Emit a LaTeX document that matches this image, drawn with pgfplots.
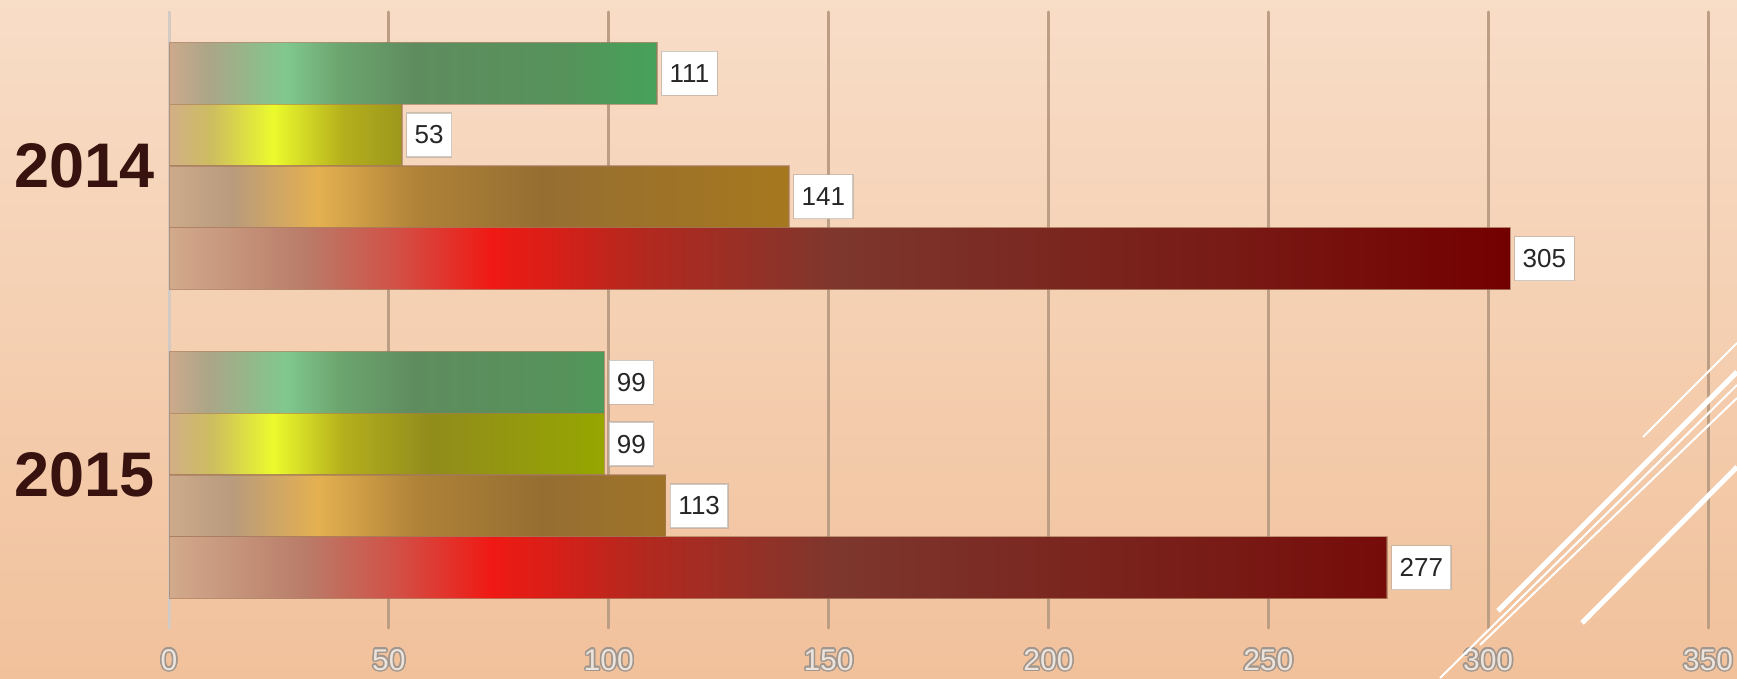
\documentclass[border=0pt]{standalone}
\usepackage{pgfplots}
\pgfplotsset{compat=1.18}
\usepackage{fontspec}
\setmainfont{Liberation Sans}
\usepackage{contour}
\contourlength{1.5pt}

\definecolor{bgtop}{RGB}{248,221,199}
\definecolor{bgbot}{RGB}{241,193,155}
\definecolor{gridc}{RGB}{188,158,132}
\definecolor{zeroc}{RGB}{212,202,196}
\definecolor{yearc}{RGB}{55,18,14}
\definecolor{tickc}{RGB}{236,228,220}
\definecolor{tickline}{RGB}{160,150,142}
\definecolor{boxc}{RGB}{178,168,158}
\definecolor{edgec}{RGB}{165,120,90}

% green
\definecolor{gA}{RGB}{205,170,140}
\definecolor{gB}{RGB}{172,165,135}
\definecolor{gC}{RGB}{128,200,142}
\definecolor{gD}{RGB}{108,165,110}
\definecolor{gE}{RGB}{95,140,95}
\definecolor{gF}{RGB}{86,146,90}
\definecolor{gG}{RGB}{70,162,90}
% yellow
\definecolor{yA}{RGB}{210,175,135}
\definecolor{yB}{RGB}{205,190,95}
\definecolor{yC}{RGB}{235,250,45}
\definecolor{yD}{RGB}{180,175,28}
\definecolor{yE}{RGB}{145,140,28}
\definecolor{yF}{RGB}{150,166,0}
% orange
\definecolor{oA}{RGB}{205,170,140}
\definecolor{oB}{RGB}{185,155,125}
\definecolor{oC}{RGB}{228,176,80}
\definecolor{oD}{RGB}{175,130,55}
\definecolor{oE}{RGB}{150,110,50}
\definecolor{oF}{RGB}{166,120,30}
% red
\definecolor{rA}{RGB}{210,170,140}
\definecolor{rB}{RGB}{185,125,105}
\definecolor{rC}{RGB}{210,80,70}
\definecolor{rD}{RGB}{240,25,20}
\definecolor{rE}{RGB}{180,40,30}
\definecolor{rF}{RGB}{125,55,45}
\definecolor{rG}{RGB}{120,25,20}
\definecolor{rH}{RGB}{115,0,0}

% bar runs from 25bp to 75bp of each shading
\pgfdeclarehorizontalshading{greenbar}{100bp}{color(0bp)=(gA); color(25bp)=(gA);
  color(29bp)=(gB); color(37bp)=(gC); color(42.5bp)=(gD); color(50bp)=(gE);
  color(65bp)=(gF); color(75bp)=(gG); color(100bp)=(gG)}
\pgfdeclarehorizontalshading{yellowbar}{100bp}{color(0bp)=(yA); color(25bp)=(yA);
  color(30bp)=(yB); color(37bp)=(yC); color(45bp)=(yD); color(55bp)=(yE);
  color(75bp)=(yF); color(100bp)=(yF)}
\pgfdeclarehorizontalshading{orangebar}{100bp}{color(0bp)=(oA); color(25bp)=(oA);
  color(30bp)=(oB); color(37bp)=(oC); color(45bp)=(oD); color(55bp)=(oE);
  color(75bp)=(oF); color(100bp)=(oF)}
\pgfdeclarehorizontalshading{redbar}{100bp}{color(0bp)=(rA); color(25bp)=(rA);
  color(30bp)=(rB); color(33.5bp)=(rC); color(37bp)=(rD); color(42.5bp)=(rE);
  color(50bp)=(rF); color(65bp)=(rG); color(75bp)=(rH); color(100bp)=(rH)}

\begin{document}
\begin{tikzpicture}
\path[use as bounding box] (0,0) rectangle (1737pt,678pt);
\clip (0,0) rectangle (1737pt,678pt);
\shade[top color=bgtop, bottom color=bgbot] (0,0) rectangle (1737pt,678pt);

\begin{axis}[
    at={(169pt,50pt)}, anchor=south west,
    scale only axis, width=1539pt, height=616pt,
    xmin=0, xmax=350, ymin=-0.495, ymax=1.498,
    axis line style={draw=none},
    major tick length=0pt,
    xtick={50,100,...,350},
    extra x ticks={0},
    extra x tick style={grid style={draw=zeroc, line width=3pt}},
    xmajorgrids,
    grid style={draw=gridc, line width=3pt, line cap=round},
    ytick={0,1}, yticklabels={2015,2014},
    xticklabel={\contour{tickline}{\textcolor{tickc}{\pgfmathprintnumber{\tick}}}},
    xticklabel style={font=\fontsize{30}{30}\selectfont, inner sep=0pt,
        anchor=north, yshift=-21pt},
    yticklabel style={font=\fontsize{63}{63}\selectfont\bfseries, text=yearc,
        inner sep=0pt, anchor=east, xshift=-14pt},
    /pgf/number format/assume math mode=true,
    point meta=x,
    nodes near coords,
    every node near coord/.append style={font=\fontsize{26}{26}\selectfont,
        text=black!85, fill=white, draw=boxc, line width=1.2pt,
        inner xsep=8pt, inner ysep=0pt, minimum height=44pt,
        anchor=west, xshift=4pt},
]
\addplot[xbar, bar shift=0pt, bar width=0.2, draw=edgec, draw opacity=0.6,
    line width=1.2pt, shade, shading=greenbar]
    coordinates {(111,1.3) (99,0.3)};
\addplot[xbar, bar shift=0pt, bar width=0.2, draw=edgec, draw opacity=0.6,
    line width=1.2pt, shade, shading=yellowbar]
    coordinates {(53,1.1) (99,0.1)};
\addplot[xbar, bar shift=0pt, bar width=0.2, draw=edgec, draw opacity=0.6,
    line width=1.2pt, shade, shading=orangebar]
    coordinates {(141,0.9) (113,-0.1)};
\addplot[xbar, bar shift=0pt, bar width=0.2, draw=edgec, draw opacity=0.6,
    line width=1.2pt, shade, shading=redbar]
    coordinates {(305,0.7) (277,-0.3)};
\end{axis}

% slide decoration lines
\draw[white, line width=2pt] (1643pt,241pt) -- (1737pt,335pt);
\draw[white, line width=5pt] (1498pt,67pt) -- (1737pt,306pt);
\draw[white, line width=2pt] (1440pt,0pt) -- (1737pt,293pt);
\draw[white, line width=2pt] (1480pt,33pt) -- (1737pt,280pt);
\draw[white, line width=5pt] (1582pt,55pt) -- (1737pt,211pt);
\end{tikzpicture}
\end{document}
